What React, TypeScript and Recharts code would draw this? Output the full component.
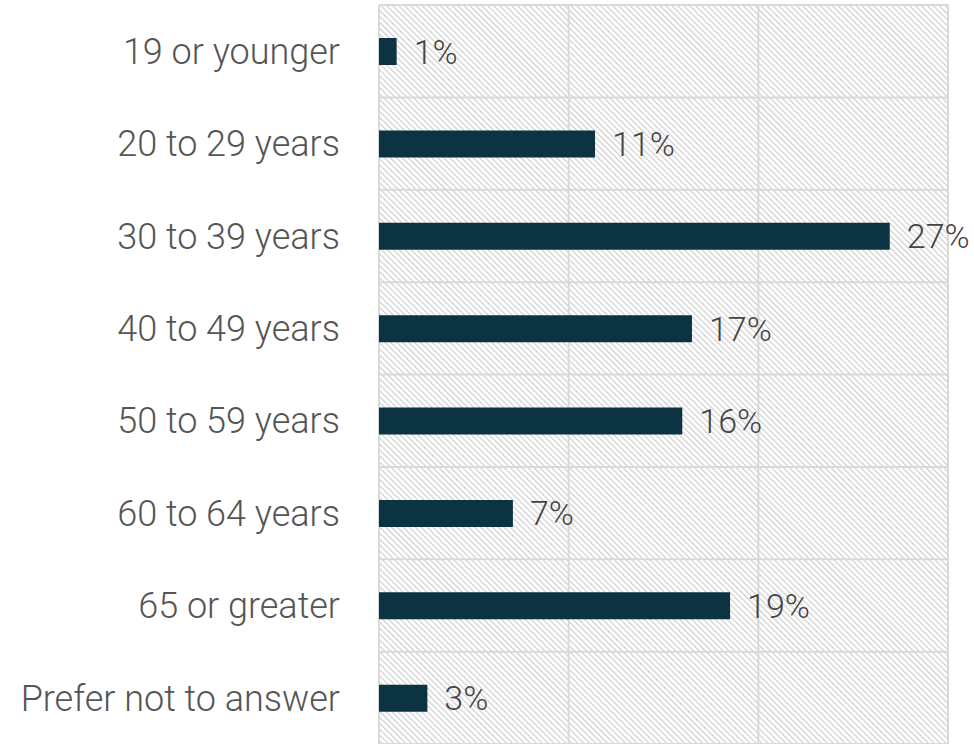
import React from "react";
import { BarChart, Bar, XAxis, YAxis, CartesianGrid, LabelList } from "recharts";

const categories = [
  "19 or younger",
  "20 to 29 years",
  "30 to 39 years",
  "40 to 49 years",
  "50 to 59 years",
  "60 to 64 years",
  "65 or greater",
  "Prefer not to answer",
];
const values = [0.93, 11.39, 26.93, 16.5, 15.99, 7.06, 18.51, 2.55];
const valueLabels = ["1%", "11%", "27%", "17%", "16%", "7%", "19%", "3%"];
const xTicks = [0, 10, 20, 30];

const data = categories.map((c, i) => ({ name: c, value: values[i], label: valueLabels[i] }));

const FONT = "Roboto, 'Noto Sans', sans-serif";

export default function App() {
  return (
    <div style={{ position: "absolute", left: 0, top: 0, width: 974, height: 744, background: "#fff" }}>
      <BarChart
        width={974}
        height={744}
        data={data}
        layout="vertical"
        margin={{ top: 5, right: 26, bottom: 0, left: 0 }}
      >
        <defs>
          <pattern
            id="hatch"
            patternUnits="userSpaceOnUse"
            width={4.2}
            height={4.2}
            patternTransform="rotate(-45)"
          >
            <rect width={4.2} height={4.2} fill="#ffffff" />
            <line x1={0.6} y1={0} x2={0.6} y2={4.2} stroke="#cfcfcf" strokeWidth={1.2} />
          </pattern>
        </defs>
        <CartesianGrid
          fill="url(#hatch)"
          stroke="#d9d9d9"
          strokeWidth={2}
          horizontalCoordinatesGenerator={({ offset }: any) =>
            categories
              .map((_, i) => offset.top + (i * offset.height) / categories.length)
              .concat([offset.top + offset.height])
          }
        />
        <XAxis type="number" domain={[0, 30]} ticks={xTicks} hide />
        <YAxis
          type="category"
          dataKey="name"
          width={379}
          axisLine={false}
          tickLine={false}
          tickSize={0}
          tickMargin={39}
          tick={{ fill: "#555555", fontSize: 36, fontFamily: FONT, fontWeight: 300 }}
        />
        <Bar dataKey="value" fill="#0b3341" barSize={27} isAnimationActive={false}>
          <LabelList
            dataKey="label"
            position="right"
            offset={17}
            style={{ fill: "#444444", fontSize: 34, fontFamily: FONT, fontWeight: 300 }}
          />
        </Bar>
      </BarChart>
    </div>
  );
}
